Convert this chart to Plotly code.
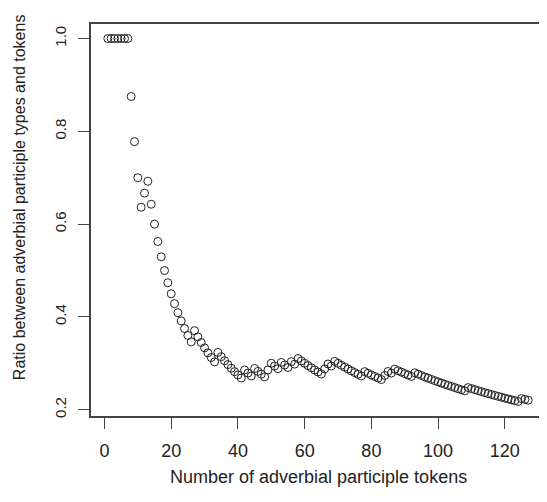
import plotly.graph_objects as go

# Number of adverbial participle tokens (x) and cumulative number of types
tokens = list(range(1, 128))
types = [1, 2, 3, 4, 5, 6, 7,
         7, 7, 7, 7,
         8,
         9, 9, 9, 9, 9, 9, 9, 9, 9, 9, 9, 9, 9, 9,
         10, 10, 10, 10, 10, 10, 10,
         11, 11, 11, 11, 11, 11, 11, 11,
         12, 12, 12,
         13, 13, 13, 13,
         14,
         15, 15, 15,
         16, 16, 16,
         17, 17,
         18, 18, 18, 18, 18, 18, 18, 18,
         19,
         20, 20,
         21, 21, 21, 21, 21, 21, 21, 21, 21,
         22, 22, 22, 22, 22, 22,
         23,
         24, 24,
         25, 25, 25, 25, 25, 25,
         26, 26, 26, 26, 26, 26, 26, 26, 26, 26, 26, 26, 26, 26, 26, 26,
         27, 27, 27, 27, 27, 27, 27, 27, 27, 27, 27, 27, 27, 27, 27, 27,
         28, 28, 28]
ratio = [t / n for t, n in zip(types, tokens)]

x_ticks = [0, 20, 40, 60, 80, 100, 120]
y_ticks = [0.2, 0.4, 0.6, 0.8, 1.0]
y_tick_labels = ["0.2", "0.4", "0.6", "0.8", "1.0"]

x_title = "Number of adverbial participle tokens"
y_title = "Ratio between adverbial participle types and tokens"

# R-style 4% axis padding
xmin, xmax = min(tokens), max(tokens)
ymin, ymax = min(ratio), max(ratio)
xpad = (xmax - xmin) * 0.04
ypad = (ymax - ymin) * 0.04

FONT = "Liberation Sans, Arial, Helvetica, sans-serif"
INK = "#222222"
AXIS = "#444444"

fig = go.Figure()
fig.add_trace(go.Scatter(
    x=tokens, y=ratio, mode="markers",
    marker=dict(symbol="circle-open", size=8, color="#222222",
                line=dict(width=1, color="#222222")),
    hoverinfo="x+y", showlegend=False,
))

fig.update_layout(
    width=539, height=494, autosize=False,
    margin=dict(l=83, r=2, t=16, b=86),
    paper_bgcolor="white", plot_bgcolor="white",
    font=dict(family=FONT, color=INK),
    xaxis=dict(
        range=[xmin - xpad, xmax + xpad], automargin=False,
        tickvals=x_ticks, ticktext=[str(v) for v in x_ticks],
        showgrid=False, zeroline=False,
        showline=True, mirror=True, linecolor=AXIS, linewidth=1.5,
        ticks="outside", ticklen=11, tickwidth=1, tickcolor=AXIS,
        ticklabelstandoff=7,
        tickfont=dict(size=18, family=FONT, color=INK),
    ),
    yaxis=dict(
        range=[ymin - ypad, ymax + ypad], automargin=False,
        tickvals=y_ticks, ticktext=y_tick_labels,
        tickangle=-90,
        showgrid=False, zeroline=False,
        showline=True, mirror=True, linecolor=AXIS, linewidth=1.5,
        ticks="outside", ticklen=11, tickwidth=1, tickcolor=AXIS,
        ticklabelstandoff=6,
        tickfont=dict(size=15, family=FONT, color=INK),
    ),
    annotations=[
        dict(text=x_title, xref="paper", yref="paper", x=0.5, y=-0.155,
             xanchor="center", yanchor="middle", showarrow=False,
             font=dict(size=18, family=FONT, color=INK)),
        dict(text=y_title, xref="paper", yref="paper", x=-0.156, y=0.5587,
             xanchor="center", yanchor="middle", textangle=-90, showarrow=False,
             font=dict(size=16, family=FONT, color=INK)),
    ],
)

fig.write_html("out.html")
